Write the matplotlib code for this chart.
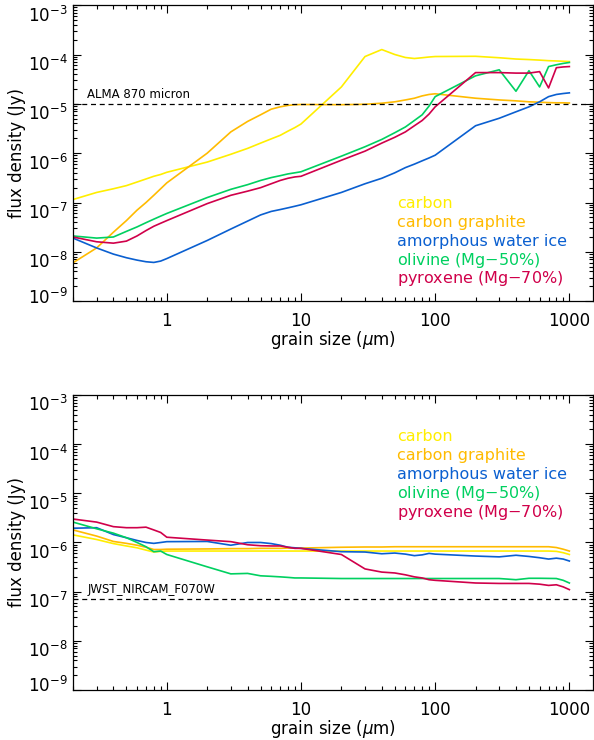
import numpy as np
import matplotlib
matplotlib.use("Agg")
import matplotlib.pyplot as plt
import matplotlib.transforms as mtransforms
from matplotlib.ticker import LogLocator, FixedLocator, FuncFormatter, NullFormatter

# grain sizes (micron), shared by every curve
sizes = [0.2, 0.3, 0.4, 0.5, 0.6, 0.7, 0.8, 0.9, 1,
         2, 3, 4, 5, 6, 7, 8, 9, 10,
         20, 30, 40, 50, 60, 70, 80, 90, 100,
         200, 300, 400, 500, 600, 700, 800, 900, 1000]

labels = ["carbon", "carbon graphite", "amorphous water ice",
          "olivine (Mg$-$50%)", "pyroxene (Mg$-$70%)"]
colours = ["#ffee00", "#ffbb00", "#0a5fd0", "#00d060", "#d0004a"]

# top panel: ALMA 870 micron flux densities (Jy)
alma_carbon = [1.15e-7, 1.6e-7, 1.9e-7, 2.2e-7, 2.6e-7, 3.0e-7, 3.4e-7, 3.7e-7, 4.1e-7,
               6.6e-7, 9.5e-7, 1.25e-6, 1.6e-6, 1.95e-6, 2.3e-6, 2.8e-6, 3.3e-6, 3.9e-6,
               2.2e-5, 9.1e-5, 1.26e-4, 1.0e-4, 8.7e-5, 8.3e-5, 8.6e-5, 8.9e-5, 9.1e-5,
               9.2e-5, 8.6e-5, 8.1e-5, 7.9e-5, 7.7e-5, 7.5e-5, 7.4e-5, 7.3e-5, 7.2e-5]
alma_graphite = [6e-9, 1.2e-8, 2.5e-8, 4.3e-8, 7e-8, 1.0e-7, 1.4e-7, 1.9e-7, 2.5e-7,
                 1.0e-6, 2.7e-6, 4.4e-6, 6.0e-6, 7.8e-6, 8.7e-6, 9.3e-6, 9.6e-6, 9.7e-6,
                 9.6e-6, 9.8e-6, 1.03e-5, 1.1e-5, 1.2e-5, 1.3e-5, 1.45e-5, 1.55e-5, 1.6e-5,
                 1.3e-5, 1.2e-5, 1.15e-5, 1.1e-5, 1.08e-5, 1.06e-5, 1.05e-5, 1.05e-5, 1.04e-5]
alma_ice = [1.9e-8, 1.2e-8, 9e-9, 7.6e-9, 6.8e-9, 6.3e-9, 6.1e-9, 6.5e-9, 7.3e-9,
            1.7e-8, 2.9e-8, 4.2e-8, 5.6e-8, 6.6e-8, 7.2e-8, 7.8e-8, 8.4e-8, 9e-8,
            1.6e-7, 2.4e-7, 3.1e-7, 4e-7, 5.1e-7, 6e-7, 7e-7, 8e-7, 9.1e-7,
            3.6e-6, 5.1e-6, 6.9e-6, 8.7e-6, 1.1e-5, 1.4e-5, 1.55e-5, 1.62e-5, 1.67e-5]
alma_olivine = [2.1e-8, 1.9e-8, 2.0e-8, 2.6e-8, 3.2e-8, 3.9e-8, 4.6e-8, 5.3e-8, 6e-8,
                1.26e-7, 1.85e-7, 2.3e-7, 2.8e-7, 3.2e-7, 3.5e-7, 3.8e-7, 4.0e-7, 4.2e-7,
                8.7e-7, 1.35e-6, 1.9e-6, 2.6e-6, 3.4e-6, 4.6e-6, 6.0e-6, 9e-6, 1.4e-5,
                3.7e-5, 4.9e-5, 1.8e-5, 4.7e-5, 2.2e-5, 5.7e-5, 6.2e-5, 6.6e-5, 6.9e-5]
alma_pyroxene = [2.0e-8, 1.6e-8, 1.5e-8, 1.65e-8, 2.1e-8, 2.7e-8, 3.3e-8, 3.8e-8, 4.3e-8,
                 9.5e-8, 1.4e-7, 1.7e-7, 2.0e-7, 2.4e-7, 2.8e-7, 3.1e-7, 3.3e-7, 3.4e-7,
                 7.2e-7, 1.1e-6, 1.6e-6, 2.1e-6, 2.7e-6, 3.6e-6, 4.6e-6, 6.2e-6, 8.7e-6,
                 4.3e-5, 4.3e-5, 4.2e-5, 4.2e-5, 4.5e-5, 2.1e-5, 5.4e-5, 5.6e-5, 5.7e-5]

# bottom panel: JWST NIRCAM F070W flux densities (Jy)
jwst_carbon = [1.43e-6, 1.15e-6, 9.5e-7, 8.5e-7, 7.8e-7, 7.0e-7, 6.4e-7, 6.6e-7, 6.7e-7,
               6.7e-7, 6.7e-7, 6.7e-7, 6.7e-7, 6.7e-7, 6.7e-7, 6.7e-7, 6.7e-7, 6.7e-7,
               6.7e-7, 6.7e-7, 6.7e-7, 6.7e-7, 6.7e-7, 6.7e-7, 6.7e-7, 6.7e-7, 6.7e-7,
               6.7e-7, 6.7e-7, 6.7e-7, 6.7e-7, 6.7e-7, 6.7e-7, 6.6e-7, 6.2e-7, 5.7e-7]
jwst_graphite = [1.8e-6, 1.35e-6, 1.05e-6, 9.6e-7, 8.8e-7, 8.0e-7, 7.2e-7, 7.2e-7, 7.3e-7,
                 7.4e-7, 7.5e-7, 7.5e-7, 7.6e-7, 7.6e-7, 7.6e-7, 7.7e-7, 7.7e-7, 7.7e-7,
                 8.0e-7, 8.1e-7, 8.1e-7, 8.2e-7, 8.2e-7, 8.2e-7, 8.2e-7, 8.2e-7, 8.2e-7,
                 8.2e-7, 8.2e-7, 8.2e-7, 8.2e-7, 8.2e-7, 8.2e-7, 7.9e-7, 7.3e-7, 6.7e-7]
jwst_ice = [1.95e-6, 2.0e-6, 1.45e-6, 1.25e-6, 1.1e-6, 1.0e-6, 9.6e-7, 1.0e-6, 1.04e-6,
            1.05e-6, 8.8e-7, 1.0e-6, 1.0e-6, 9.5e-7, 8.8e-7, 8.0e-7, 7.8e-7, 7.6e-7,
            6.5e-7, 6.4e-7, 5.9e-7, 6.1e-7, 5.8e-7, 5.4e-7, 5.6e-7, 6.0e-7, 5.8e-7,
            5.3e-7, 5.1e-7, 5.5e-7, 5.2e-7, 4.9e-7, 4.6e-7, 4.8e-7, 4.6e-7, 4.2e-7]
jwst_olivine = [2.6e-6, 1.9e-6, 1.55e-6, 1.25e-6, 1.0e-6, 8.2e-7, 6.5e-7, 6.7e-7, 5.7e-7,
                3.2e-7, 2.3e-7, 2.35e-7, 2.1e-7, 2.05e-7, 2.0e-7, 1.95e-7, 1.9e-7, 1.9e-7,
                1.85e-7, 1.85e-7, 1.85e-7, 1.85e-7, 1.85e-7, 1.85e-7, 1.85e-7, 1.85e-7, 1.85e-7,
                1.85e-7, 1.85e-7, 1.75e-7, 1.87e-7, 1.87e-7, 1.86e-7, 1.85e-7, 1.7e-7, 1.5e-7]
jwst_pyroxene = [3.0e-6, 2.6e-6, 2.1e-6, 2.0e-6, 2.0e-6, 2.05e-6, 1.8e-6, 1.6e-6, 1.28e-6,
                 1.12e-6, 1.04e-6, 9e-7, 8.6e-7, 8.5e-7, 8.5e-7, 8.0e-7, 7.6e-7, 7.6e-7,
                 5.7e-7, 2.9e-7, 2.5e-7, 2.4e-7, 2.2e-7, 2.0e-7, 1.9e-7, 1.75e-7, 1.7e-7,
                 1.5e-7, 1.47e-7, 1.47e-7, 1.47e-7, 1.42e-7, 1.34e-7, 1.38e-7, 1.25e-7, 1.1e-7]

alma_limit = 1e-5
jwst_limit = 7e-8


def draw_panel(ax, curves, limit, limit_label, legend_top):
    for vals, col in zip(curves, colours):
        ax.plot(sizes, vals, color=col, lw=1.2)
    ax.axhline(limit, color="black", lw=0.9, ls=(0, (4, 3)))
    ax.text(0.255, limit * 1.15, limit_label, fontsize=8.5, ha="left", va="bottom")

    ax.set_xscale("log")
    ax.set_yscale("log")
    ax.set_xlim(0.2, 1500)
    ax.set_ylim(1e-9, 1e-3)

    ax.xaxis.set_major_locator(FixedLocator([1, 10, 100, 1000]))
    ax.xaxis.set_major_formatter(FuncFormatter(lambda v, p: "%d" % v))
    ax.xaxis.set_minor_locator(LogLocator(base=10, subs=np.arange(2, 10), numticks=100))
    ax.xaxis.set_minor_formatter(NullFormatter())
    ax.yaxis.set_major_locator(FixedLocator([1e-9, 1e-8, 1e-7, 1e-6, 1e-5, 1e-4, 1e-3]))
    ax.yaxis.set_minor_locator(LogLocator(base=10, subs=np.arange(2, 10), numticks=100))
    ax.yaxis.set_minor_formatter(NullFormatter())

    ax.tick_params(which="both", direction="in", top=True, right=True, width=0.8)
    ax.tick_params(which="major", length=6, labelsize=12)
    ax.tick_params(which="minor", length=3)
    ax.tick_params(axis="x", pad=8)
    ax.tick_params(axis="y", pad=4)
    for s in ax.spines.values():
        s.set_linewidth(0.9)

    ax.set_xlabel("grain size ($\\mu$m)", fontsize=12, labelpad=-1)
    ax.set_ylabel("flux density (Jy)", fontsize=12, labelpad=1)

    # coloured text legend
    for i, (lab, col) in enumerate(zip(labels, colours)):
        ax.text(0.623, legend_top - i * 0.064, lab, color=col, fontsize=11.5,
                transform=ax.transAxes, ha="left", va="center")


fig = plt.figure(figsize=(5.94, 7.4), dpi=100)
ax1 = fig.add_axes([0.1229, 0.593, 0.8754, 0.4])
ax2 = fig.add_axes([0.1229, 0.0676, 0.8754, 0.3986])

draw_panel(ax1, [alma_carbon, alma_graphite, alma_ice, alma_olivine, alma_pyroxene],
           alma_limit, "ALMA 870 micron", 0.331)
draw_panel(ax2, [jwst_carbon, jwst_graphite, jwst_ice, jwst_olivine, jwst_pyroxene],
           jwst_limit, "JWST_NIRCAM_F070W", 0.858)

# IDL-style placement of the y labels: exponent level with the tick,
# lowest label pushed up inside the axis
fig.canvas.draw()
down = mtransforms.ScaledTranslation(0, -6 / 72, fig.dpi_scale_trans)
up = mtransforms.ScaledTranslation(0, 4 / 72, fig.dpi_scale_trans)
for ax in (ax1, ax2):
    for tick in ax.yaxis.get_major_ticks():
        lab = tick.label1
        shift = up if tick.get_loc() < 2e-9 else down
        lab.set_transform(lab.get_transform() + shift)

fig.savefig("out.png", dpi=100)
